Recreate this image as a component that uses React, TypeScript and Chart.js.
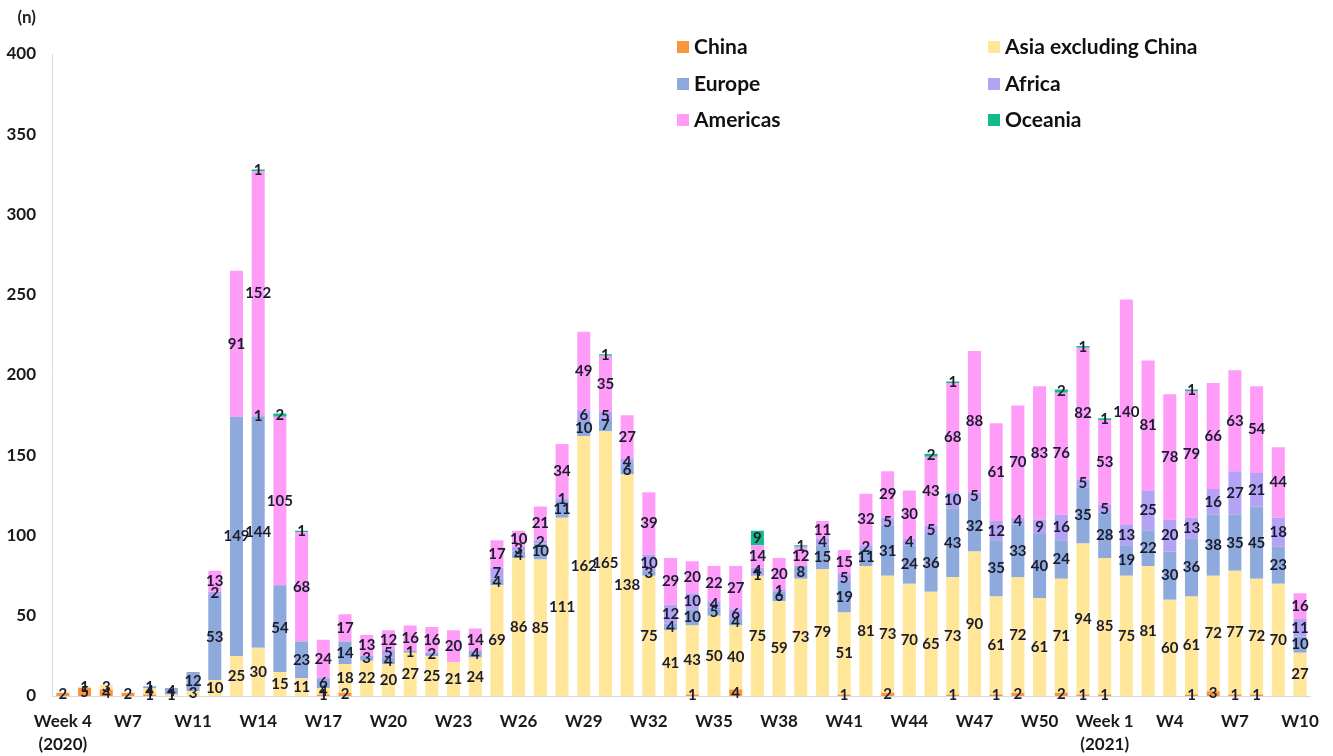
import React, { useEffect, useRef } from "react";
import { Chart, registerables } from "chart.js";

Chart.register(...registerables);

const weekLabels: (string | string[])[] = [
  ["Week 4", "(2020)"], "W5", "W6", "W7", "W8", "W9", "W11", "W12", "W13", "W14",
  "W15", "W16", "W17", "W18", "W19", "W20", "W21", "W22", "W23", "W24",
  "W25", "W26", "W27", "W28", "W29", "W30", "W31", "W32", "W33", "W34",
  "W35", "W36", "W37", "W38", "W39", "W40", "W41", "W42", "W43", "W44",
  "W45", "W46", "W47", "W48", "W49", "W50", "W51", "W52", ["Week 1", "(2021)"], "W2",
  "W3", "W4", "W5", "W6", "W7", "W8", "W9", "W10",
];

const china = [
  2, 5, 4, 2, 1, 0, 0, 0, 0, 0, 0, 0, 1, 2, 0, 0, 0, 0, 0, 0,
  0, 0, 0, 0, 0, 0, 0, 0, 0, 1, 0, 4, 0, 0, 0, 0, 1, 0, 2, 0,
  0, 1, 0, 1, 2, 0, 2, 1, 1, 0, 0, 0, 1, 3, 1, 1, 0, 0,
];
const asiaExChina = [
  0, 1, 3, 0, 4, 1, 3, 10, 25, 30, 15, 11, 4, 18, 22, 20, 27, 25, 21, 24,
  69, 86, 85, 111, 162, 165, 138, 75, 41, 43, 50, 40, 75, 59, 73, 79, 51, 81, 73, 70,
  65, 73, 90, 61, 72, 61, 71, 94, 85, 75, 81, 60, 61, 72, 77, 72, 70, 27,
];
const europe = [
  0, 0, 0, 0, 1, 4, 12, 53, 149, 144, 54, 23, 6, 14, 3, 4, 1, 2, 0, 4,
  4, 4, 10, 11, 10, 7, 6, 3, 4, 10, 5, 4, 1, 6, 8, 15, 19, 11, 31, 24,
  36, 43, 32, 35, 33, 40, 24, 35, 28, 19, 22, 30, 36, 38, 35, 45, 23, 10,
];
const africa = [
  0, 0, 0, 0, 0, 0, 0, 2, 0, 1, 0, 0, 0, 0, 0, 5, 0, 0, 0, 0,
  7, 3, 2, 1, 6, 5, 4, 10, 12, 10, 4, 6, 4, 1, 0, 4, 5, 2, 5, 4,
  5, 10, 5, 12, 4, 9, 16, 5, 5, 13, 25, 20, 13, 16, 27, 21, 18, 11,
];
const americas = [
  0, 0, 0, 0, 0, 0, 0, 13, 91, 152, 105, 68, 24, 17, 13, 12, 16, 16, 20, 14,
  17, 10, 21, 34, 49, 35, 27, 39, 29, 20, 22, 27, 14, 20, 12, 11, 15, 32, 29, 30,
  43, 68, 88, 61, 70, 83, 76, 82, 53, 140, 81, 78, 79, 66, 63, 54, 44, 16,
];
const oceania = [
  0, 0, 0, 0, 0, 0, 0, 0, 0, 1, 2, 1, 0, 0, 0, 0, 0, 0, 0, 0,
  0, 0, 0, 0, 0, 1, 0, 0, 0, 0, 0, 0, 9, 0, 1, 0, 0, 0, 0, 0,
  2, 1, 0, 0, 0, 0, 2, 1, 1, 0, 0, 0, 1, 0, 0, 0, 0, 0,
];

const seriesNames = ["China", "Asia excluding China", "Europe", "Africa", "Americas", "Oceania"];
const seriesColors = ["#F8963E", "#FFE699", "#8EA9DB", "#B4A2F5", "#FF9CF8", "#12BC8A"];
const yTicks = [0, 50, 100, 150, 200, 250, 300, 350, 400];

const FONT = "Lato, 'Open Sans', sans-serif";

const valueLabels = {
  id: "valueLabels",
  afterDatasetsDraw(chart: any) {
    const ctx = chart.ctx;
    ctx.save();
    ctx.font = `bold 15px ${FONT}`;
    ctx.fillStyle = "#1c1c30";
    ctx.textAlign = "center";
    ctx.textBaseline = "middle";
    chart.data.datasets.forEach((ds: any, di: number) => {
      const meta = chart.getDatasetMeta(di);
      meta.data.forEach((el: any, i: number) => {
        const v = ds.data[i];
        if (!v) return;
        const y = (el.y + el.base) / 2;
        ctx.fillText(String(v), el.x, y);
      });
    });
    ctx.restore();
  },
};

const customLegend = {
  id: "customLegend",
  afterDraw(chart: any) {
    const ctx = chart.ctx;
    ctx.save();
    ctx.font = `bold 21px ${FONT}`;
    ctx.textBaseline = "middle";
    ctx.textAlign = "left";
    const cols = [677, 988];
    const rows = [47, 84, 120];
    seriesNames.forEach((name, i) => {
      const cx = cols[i % 2];
      const cy = rows[Math.floor(i / 2)];
      ctx.fillStyle = seriesColors[i];
      ctx.fillRect(cx, cy - 6, 12, 12);
      ctx.fillStyle = "#111";
      ctx.fillText(name, cx + 17, cy);
    });
    // unit label
    ctx.font = `bold 17px ${FONT}`;
    ctx.textAlign = "right";
    ctx.fillStyle = "#222";
    ctx.fillText("(n)", 36, 18);
    ctx.restore();
  },
};

export default function App() {
  const canvasRef = useRef<HTMLCanvasElement | null>(null);

  useEffect(() => {
    document.body.style.margin = "0";
    const canvas = canvasRef.current;
    if (!canvas) return;
    const values = [china, asiaExChina, europe, africa, americas, oceania];
    const chart = new Chart(canvas, {
      type: "bar",
      data: {
        labels: weekLabels,
        datasets: seriesNames.map((name, i) => ({
          label: name,
          data: values[i],
          backgroundColor: seriesColors[i],
          borderWidth: 0,
          categoryPercentage: 1,
          barPercentage: 0.6,
        })),
      },
      options: {
        responsive: false,
        animation: false,
        layout: { padding: { top: 54, right: 22, bottom: 0, left: 0 } },
        plugins: {
          legend: { display: false },
          tooltip: { enabled: false },
        },
        scales: {
          x: {
            stacked: true,
            grid: { display: false, drawTicks: false },
            border: { display: true, color: "#d9d9d9", width: 1 },
            ticks: {
              autoSkip: false,
              maxRotation: 0,
              minRotation: 0,
              padding: 14,
              color: "#1a1a1a",
              font: { family: FONT, size: 17, weight: "bold", lineHeight: 1.35 },
              callback: (_v: any, idx: number) => (idx % 3 === 0 ? weekLabels[idx] : ""),
            },
            afterFit: (axis: any) => {
              axis.height = 60;
            },
          },
          y: {
            stacked: true,
            min: 0,
            max: 400,
            grid: { display: false, drawTicks: false },
            border: { display: true, color: "#d9d9d9", width: 1 },
            afterBuildTicks: (axis: any) => {
              axis.ticks = yTicks.map((v) => ({ value: v }));
            },
            ticks: {
              padding: 16,
              color: "#1a1a1a",
              font: { family: FONT, size: 17, weight: "bold" },
            },
            afterFit: (axis: any) => {
              axis.width = 52;
            },
          },
        },
      },
      plugins: [valueLabels, customLegend],
    });
    return () => chart.destroy();
  }, []);

  return (
    <div style={{ position: "fixed", left: 0, top: 0, width: 1333, height: 756, background: "#fff" }}>
      <canvas ref={canvasRef} width={1333} height={756} />
    </div>
  );
}
